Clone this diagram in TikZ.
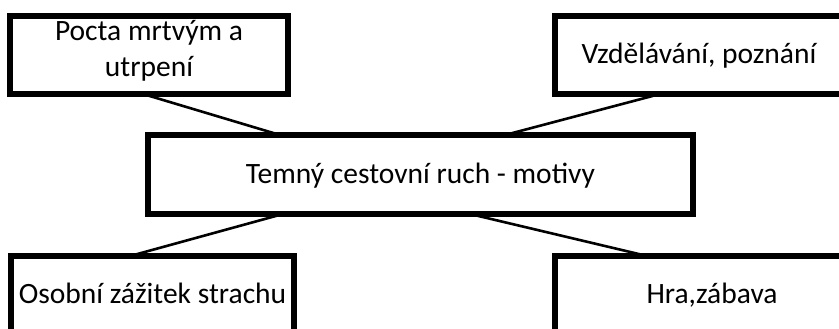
\documentclass[tikz,border=0pt]{standalone}
\usepackage{fontspec}
\setmainfont{Carlito}
\tikzset{>=latex}
\tikzset{motiv/.style={draw, rectangle, line width=6pt, outer sep=0pt, inner sep=0pt, fill=white, minimum height=78pt, text height=23pt, text depth=5pt, font=\fontsize{29.5}{36}\selectfont, align=center}}
\usetikzlibrary{positioning}

\begin{document}
\begin{tikzpicture}[x=1pt, y=-1pt]
      \useasboundingbox (0,0) rectangle (839,329);
      \fill[white] (0,0) rectangle (839,329);
      \clip (0,0) rectangle (839,329);
      \node[motiv, minimum width=278pt, text height=57pt, text depth=13pt] (poc) at (149,55) {Pocta mrtvým a\\utrpení};
      \node[motiv, right of=poc, node distance=550pt, minimum width=288pt] (vzd) {Vzdělávání, poznání};
      \coordinate[below of=poc, node distance=119.5pt] (aux1);
      \node[motiv, right of=aux1, node distance=271.5pt, minimum width=545pt, minimum height=79pt] (tem) {Temný cestovní ruch - motivy};
      \node[motiv, below of=poc, node distance=239.5pt, xshift=3.5pt, minimum width=283pt] (oso) {Osobní zážitek strachu};
      \node[motiv, below of=vzd, node distance=239.5pt, xshift=13pt, minimum width=314pt] (hra) {Hra,zábava};
      % spojnice
      \draw[line width=2.6pt] ([xshift=-6pt]poc.south) -- ([xshift=-140.5pt]tem.north);
      \draw[line width=2.6pt] ([xshift=-39pt]vzd.south) -- ([xshift=84.5pt]tem.north);
      \draw[line width=2.6pt] ([xshift=-137.5pt]tem.south) -- ([xshift=-20.5pt]oso.north);
      \draw[line width=2.6pt] ([xshift=49.5pt]tem.south) -- ([xshift=-67pt]hra.north);
    \end{tikzpicture}
\end{document}
